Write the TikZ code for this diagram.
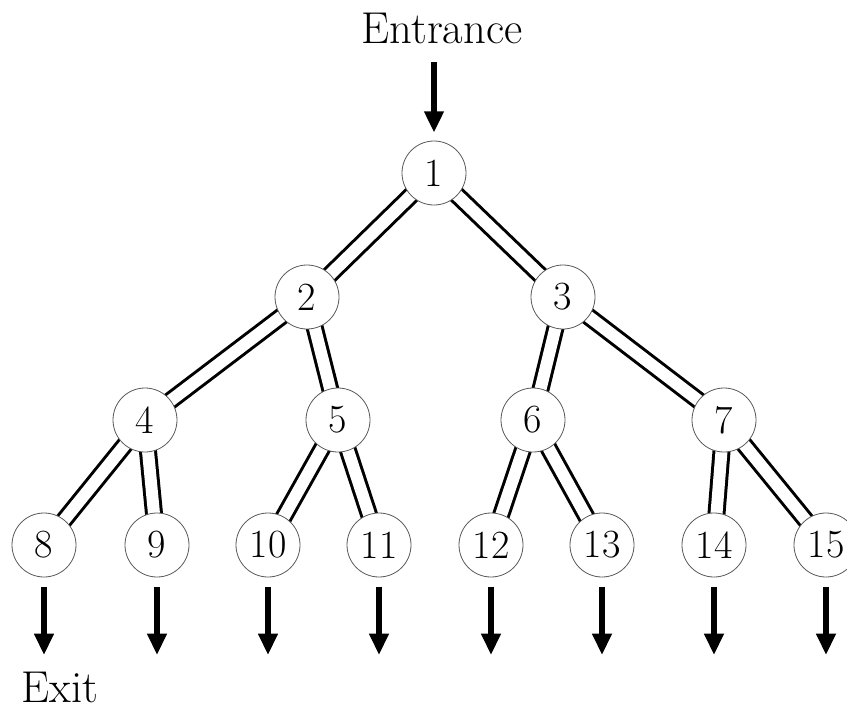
\documentclass[tikz,border=0pt]{standalone}
\usetikzlibrary{arrows.meta,backgrounds}
\begin{document}
\begin{tikzpicture}[x=0.75pt,y=-0.75pt,
  vertex/.style={circle,draw=black!65,line width=0.6pt,fill=white,
    minimum size=48pt,inner sep=0pt,font=\fontsize{30}{36}\selectfont},
  passage/.style={draw=black,line width=2.25pt,double=white,double distance=9pt},
  flow/.style={line width=4.5pt,-{Triangle[width=14pt,length=16pt]}},
  signtext/.style={font=\fontsize{33.5}{40}\selectfont,inner sep=0pt,anchor=base}]
\useasboundingbox (0,0) rectangle (847,707);

% tree nodes
\node[vertex] (n1) at (434,173) {1};
\node[vertex] (n2) at (307,297) {2};
\node[vertex] (n3) at (563,297) {3};
\node[vertex] (n4) at (145,420) {4};
\node[vertex] (n5) at (338,420) {5};
\node[vertex] (n6) at (533,420) {6};
\node[vertex] (n7) at (724,420) {7};
\foreach \i/\x in {8/44,9/157,10/268,11/379,12/491,13/602,14/714,15/826}{
  \node[vertex] (n\i) at (\x,545) {\i};
  \coordinate (o\i) at (\x,655);
}

% white sheet and double-lined passages, behind the nodes
\begin{scope}[on background layer]
  \fill[white] (0,0) rectangle (847,707);
  \foreach \a/\b in {1/2,1/3,2/4,2/5,3/6,3/7,4/8,4/9,5/10,5/11,6/12,6/13,7/14,7/15}{
    \draw[passage] (n\a.center) -- (n\b.center);
  }
\end{scope}

% entrance and exits
\node[signtext] (entr) at (442,43) {Entrance};
\coordinate (ein) at (434,62);
\draw[flow] (ein) -- ([yshift=6pt]n1.north);
\foreach \i in {8,...,15}{
  \draw[flow] ([yshift=-7pt]n\i.south) -- (o\i);
}
\node[signtext] (exit) at (60,702) {Exit};
\end{tikzpicture}
\end{document}
